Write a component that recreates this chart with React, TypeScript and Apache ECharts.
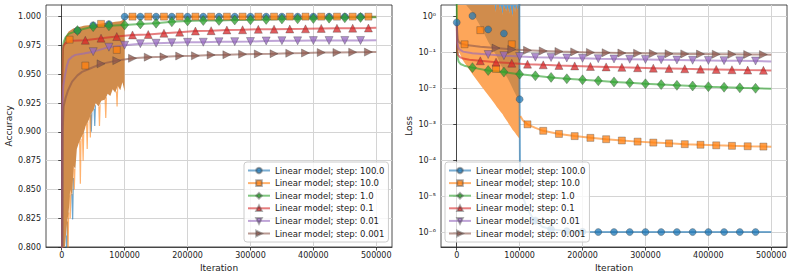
import React, { useEffect, useRef } from "react";
import * as echarts from "echarts";

// ---------- labels / categories ----------
const SERIES_NAMES = [
  "Linear model; step: 100.0",
  "Linear model; step: 10.0",
  "Linear model; step: 1.0",
  "Linear model; step: 0.1",
  "Linear model; step: 0.01",
  "Linear model; step: 0.001",
];
const ITER_TICKS = [0, 100000, 200000, 300000, 400000, 500000];
const ACC_TICKS = [0.8, 0.825, 0.85, 0.875, 0.9, 0.925, 0.95, 0.975, 1.0];
const LOSS_TICKS = [1e-6, 1e-5, 1e-4, 1e-3, 1e-2, 1e-1, 1];
const MARKER_OFFSETS = [0, 12500, 25000, 37500, 50000, 62500];
const MARKER_STEP = 25000;

// ---------- accuracy (left) ----------
// noisy spikes of the two large-step runs that reach below the dense noise band
const accBlueSpikes = [
  [7000, 0.81], [8000, 0.79], [9000, 0.822], [9001, null],
  [16000, 0.846], [17400, 0.824], [18500, 0.86], [18501, null],
  [46000, 0.915], [47000, 0.9], [48000, 0.917], [48001, null],
  [51500, 0.92], [52500, 0.905], [53500, 0.923],
];
const accOrangeSpikes = [
  [9000, 0.823], [10000, 0.79], [11000, 0.83], [11001, null],
  [12500, 0.845], [13500, 0.825], [14500, 0.85], [14501, null],
  [19000, 0.87], [20000, 0.85], [21000, 0.868], [21001, null],
  [28500, 0.892], [29600, 0.855], [30700, 0.894], [30701, null],
  [33000, 0.897], [34000, 0.875], [35000, 0.899], [35001, null],
  [39500, 0.907], [40500, 0.885], [41500, 0.909], [41501, null],
  [44500, 0.914], [45500, 0.895], [46500, 0.916], [46501, null],
  [59000, 0.922], [60000, 0.905], [61000, 0.924], [61001, null],
  [69000, 0.928], [70000, 0.912], [71000, 0.93], [71001, null],
  [87000, 0.935], [88000, 0.922], [89000, 0.94],
];
// band: [iteration, lower, upper]
const accBand = [
  [0, 0.7, 0.8], [1000, 0.7, 0.95], [1500, 0.7, 0.965], [2000, 0.7, 0.97], [3200, 0.7, 0.977],
  [5000, 0.79, 0.981], [8500, 0.821, 0.985], [11000, 0.83, 0.987], [13500, 0.85, 0.988],
  [16500, 0.844, 0.989], [19000, 0.87, 0.99], [21700, 0.868, 0.99], [24000, 0.885, 0.9905],
  [27000, 0.89, 0.991], [31000, 0.895, 0.9915], [35000, 0.899, 0.992], [38000, 0.905, 0.9922],
  [42800, 0.91, 0.9925], [46000, 0.915, 0.9928], [50700, 0.919, 0.993], [54000, 0.925, 0.9933],
  [58600, 0.922, 0.9937], [63000, 0.927, 0.994], [69300, 0.928, 0.9945], [73000, 0.933, 0.9948],
  [77200, 0.931, 0.995], [81000, 0.937, 0.9952], [85100, 0.934, 0.9955], [89000, 0.94, 0.9957],
  [93000, 0.936, 0.996], [96500, 0.943, 0.9968], [100000, 0.935, 1.0],
];
const accBlue = [
  [25000, 0.988], [25001, null], [50000, 0.9925], [50001, null], [75000, 0.9935], [75001, null],
  [100000, 1.0], [125000, 1.0], [150000, 1.0], [175000, 1.0], [200000, 1.0], [225000, 1.0],
  [250000, 1.0], [275000, 1.0], [300000, 1.0], [325000, 1.0], [350000, 1.0], [375000, 1.0],
  [400000, 1.0], [425000, 1.0], [450000, 1.0], [475000, 1.0], [500000, 1.0],
];
const accOrange = [
  [12500, 0.98], [12501, null], [37500, 0.9575], [37501, null], [62500, 0.9937], [62501, null],
  [87500, 0.9711], [87501, null],
  [100000, 1.0], [112500, 1.0], [137500, 1.0], [162500, 1.0], [187500, 1.0], [212500, 1.0],
  [237500, 1.0], [262500, 1.0], [287500, 1.0], [312500, 1.0], [337500, 1.0], [362500, 1.0],
  [387500, 1.0], [412500, 1.0], [437500, 1.0], [462500, 1.0], [487500, 1.0], [500000, 1.0],
];
const accGreen = [
  [0, 0.5], [800, 0.95], [1500, 0.972], [3200, 0.978], [6000, 0.982], [11000, 0.985],
  [25000, 0.9879], [50000, 0.9913], [75000, 0.992], [100000, 0.9928], [125000, 0.9937],
  [150000, 0.9943], [175000, 0.9955], [200000, 0.9963], [225000, 0.9966], [250000, 0.9967],
  [275000, 0.9971], [300000, 0.9972], [325000, 0.9976], [350000, 0.998], [375000, 0.9981],
  [400000, 0.9984], [425000, 0.9987], [450000, 0.999], [475000, 0.9993], [500000, 0.9994],
];
const accRed = [
  [0, 0.5], [800, 0.94], [1600, 0.9711], [3000, 0.975], [5900, 0.9769], [10000, 0.978],
  [16500, 0.979], [37500, 0.9795], [62500, 0.9813], [87500, 0.9827], [112500, 0.9841],
  [137500, 0.9845], [162500, 0.9856], [187500, 0.9865], [212500, 0.9875], [237500, 0.9878],
  [262500, 0.9884], [287500, 0.9886], [312500, 0.989], [337500, 0.9891], [362500, 0.9893],
  [387500, 0.9894], [412500, 0.9898], [437500, 0.9899], [462500, 0.99], [487500, 0.9901],
  [500000, 0.9904],
];
const accPurple = [
  [0, 0.5], [1000, 0.92], [2500, 0.94], [4800, 0.948], [8000, 0.957], [11000, 0.9624],
  [16000, 0.965], [21700, 0.9668], [35000, 0.968], [50000, 0.9696], [75000, 0.9735],
  [100000, 0.9752], [125000, 0.9765], [150000, 0.9769], [175000, 0.9774], [200000, 0.9777],
  [225000, 0.9778], [250000, 0.9782], [275000, 0.9783], [300000, 0.9784], [325000, 0.9789],
  [350000, 0.9791], [375000, 0.979], [400000, 0.9792], [425000, 0.9792], [450000, 0.9793],
  [475000, 0.9793], [500000, 0.9796],
];
const accBrown = [
  [0, 0.5], [1500, 0.9], [3000, 0.922], [5900, 0.929], [10000, 0.936], [16500, 0.9436],
  [25000, 0.949], [32300, 0.952], [45000, 0.955], [62500, 0.959], [87500, 0.9618],
  [112500, 0.9638], [137500, 0.9648], [162500, 0.9651], [187500, 0.9658], [212500, 0.966],
  [237500, 0.9667], [262500, 0.9669], [287500, 0.9674], [312500, 0.9676], [337500, 0.9678],
  [362500, 0.9682], [387500, 0.9684], [412500, 0.9688], [437500, 0.9689], [462500, 0.9691],
  [487500, 0.9692], [500000, 0.9693],
];

// ---------- loss (right) ----------
// band: [iteration, lower, upper]
const lossOrangeBand = [
  [0, 0.69, 3], [1000, 0.2, 3], [2000, 0.12, 3], [10000, 0.06, 3], [25000, 0.025, 3],
  [40000, 0.011, 3], [55000, 0.005, 3], [60000, 0.0038, 3], [62000, 0.0034, 1.3],
  [63500, 0.0031, 3], [67000, 0.0026, 3], [68500, 0.0024, 1.5], [70000, 0.0022, 3],
  [73000, 0.0019, 1.1], [74500, 0.0017, 3], [79000, 0.0013, 1.4], [80500, 0.0012, 3],
  [84000, 0.00095, 1.2], [85000, 0.0009, 3], [89000, 0.0007, 1.0], [90500, 0.00065, 3],
  [93000, 0.00057, 1.3], [94500, 0.00052, 3], [97000, 0.00046, 1.5], [98500, 0.00042, 3],
  [100000, 0.0004, 3],
];
const lossBlueBand = [
  [15000, 3, 3], [25000, 1.3, 3], [32000, 0.8, 3], [40000, 0.45, 3], [50000, 0.2, 3],
  [60000, 0.1, 3], [70000, 0.045, 3], [80000, 0.02, 3], [90000, 0.009, 3], [100000, 0.004, 3],
];
// where both noisy runs overlap
const lossBothBand = [
  [15000, 3, 3], [25000, 1.3, 3], [32000, 0.8, 3], [40000, 0.45, 3], [50000, 0.2, 3],
  [60000, 0.1, 3], [62000, 0.09, 1.3], [63500, 0.08, 3], [67000, 0.06, 3], [68500, 0.05, 1.5],
  [70000, 0.045, 3], [73000, 0.036, 1.1], [74500, 0.032, 3], [79000, 0.022, 1.4],
  [80500, 0.02, 3], [84000, 0.015, 1.2], [85000, 0.014, 3], [89000, 0.01, 1.0],
  [90500, 0.0088, 3], [93000, 0.0072, 1.3], [94500, 0.0064, 3], [97000, 0.0052, 1.5],
  [98500, 0.0046, 3], [100000, 0.004, 3],
];
const lossBlue = [
  [0, 0.69], [1, null], [25000, 1.05], [25001, null], [50000, 0.44], [50001, null],
  [75000, 0.34], [75001, null],
  [99500, 3], [100000, 0.005], [100500, 1e-4], [102000, 1.5e-5], [110000, 5.3e-6],
  [120000, 2.6e-6], [125000, 2.1e-6], [136000, 1.4e-6], [150000, 1.2e-6], [175000, 1.06e-6],
  [200000, 1.02e-6], [225000, 1e-6], [250000, 1e-6], [275000, 1e-6], [300000, 1e-6],
  [325000, 1e-6], [350000, 1e-6], [375000, 1e-6], [400000, 1e-6], [425000, 1e-6],
  [450000, 1e-6], [475000, 1e-6], [500000, 1e-6],
];
const lossOrange = [
  [12500, 0.17], [12501, null], [37500, 0.42], [37501, null], [62500, 0.035], [62501, null],
  [87500, 0.17], [87501, null],
  [101000, 0.0017], [105000, 0.0013], [112500, 1.0e-3], [125000, 8e-4], [137500, 6.6e-4],
  [162500, 5.4e-4], [187500, 4.7e-4], [212500, 4.2e-4], [237500, 3.85e-4], [262500, 3.55e-4],
  [287500, 3.3e-4], [312500, 3.1e-4], [337500, 2.95e-4], [362500, 2.8e-4], [387500, 2.7e-4],
  [412500, 2.6e-4], [437500, 2.52e-4], [462500, 2.45e-4], [487500, 2.4e-4], [500000, 2.37e-4],
];
const lossGreen = [
  [0, 3], [600, 0.2], [1000, 0.1], [1600, 0.07], [3000, 0.056], [6000, 0.048], [12000, 0.043],
  [25000, 0.038], [50000, 0.0316], [75000, 0.0285], [100000, 0.025], [125000, 0.0225],
  [150000, 0.0203], [175000, 0.0186], [200000, 0.0174], [225000, 0.0163], [250000, 0.0152],
  [275000, 0.0143], [300000, 0.0135], [325000, 0.0128], [350000, 0.0122], [375000, 0.0117],
  [400000, 0.0112], [425000, 0.0108], [450000, 0.0104], [475000, 0.0101], [500000, 0.0098],
];
const lossRed = [
  [0, 0.69], [500, 0.2], [1000, 0.11], [2000, 0.085], [5000, 0.075], [10000, 0.068],
  [20000, 0.063], [37500, 0.059], [62500, 0.054], [87500, 0.0505], [112500, 0.0475],
  [137500, 0.0455], [162500, 0.0438], [187500, 0.0424], [212500, 0.041], [237500, 0.0398],
  [262500, 0.0387], [287500, 0.0377], [312500, 0.0368], [337500, 0.036], [362500, 0.0352],
  [387500, 0.0345], [412500, 0.0338], [437500, 0.0331], [462500, 0.0325], [487500, 0.032],
  [500000, 0.0318],
];
const lossPurple = [
  [0, 0.69], [600, 0.3], [1200, 0.18], [2500, 0.14], [5000, 0.12], [10000, 0.106],
  [25000, 0.096], [50000, 0.088], [75000, 0.082], [100000, 0.0775], [125000, 0.0745],
  [150000, 0.0725], [175000, 0.0705], [200000, 0.069], [225000, 0.0675], [250000, 0.0662],
  [275000, 0.065], [300000, 0.064], [325000, 0.063], [350000, 0.062], [375000, 0.061],
  [400000, 0.0602], [425000, 0.0595], [450000, 0.0587], [475000, 0.058], [500000, 0.0565],
];
const lossBrown = [
  [0, 0.69], [800, 0.35], [1500, 0.24], [3000, 0.2], [6000, 0.18], [15000, 0.163],
  [37500, 0.145], [62500, 0.133], [87500, 0.122], [112500, 0.115], [137500, 0.111],
  [162500, 0.107], [187500, 0.104], [212500, 0.101], [237500, 0.099], [262500, 0.097],
  [287500, 0.0955], [312500, 0.094], [337500, 0.0928], [362500, 0.0917], [387500, 0.0907],
  [412500, 0.0898], [437500, 0.089], [462500, 0.0883], [487500, 0.0876], [500000, 0.087],
];

// ---------- styles ----------
const COLORS = ["#1f77b4", "#ff7f0e", "#2ca02c", "#d62728", "#9467bd", "#8c564b"];
const SYMBOLS = [
  "circle",
  "rect",
  "diamond",
  "triangle",
  "path://M0,0L10,0L5,10Z",
  "path://M0,0L10,5L0,10Z",
];
const SYMBOL_SIZES: any[] = [7, 7, [8, 10], 8, 8, 8];
const FONT = "DejaVu Sans";
const TEXT = "#222";
const ACC_MIN = 0.8, ACC_MAX = 1.0101;
const LOSS_MIN = 3.83e-7, LOSS_MAX = 2.11;
// pre-blended fills: blue-noise area, orange-noise area, and where both overlap
const BLUE_FILL = "#5f9fcf";
const ORANGE_FILL = "#fda65a";
const BOTH_FILL = "#d08c4c";

const SUP: Record<string, string> = {
  "-": "\u207b", "0": "\u2070", "1": "\u00b9", "2": "\u00b2", "3": "\u00b3", "4": "\u2074",
  "5": "\u2075", "6": "\u2076", "7": "\u2077", "8": "\u2078", "9": "\u2079",
};
function powLabel(v: number) {
  const e = String(Math.round(Math.log10(v)));
  return "10" + e.split("").map((c) => SUP[c] || c).join("");
}

function isMarker(idx: number, x: number) {
  const off = MARKER_OFFSETS[idx];
  return x >= off && (x - off) % MARKER_STEP === 0 && x < 500000;
}

function mainSeries(idx: number, pts: any[], axis: number) {
  return {
    type: "line",
    name: SERIES_NAMES[idx],
    xAxisIndex: axis,
    yAxisIndex: axis,
    z: 10,
    clip: true,
    symbol: SYMBOLS[idx],
    symbolSize: SYMBOL_SIZES[idx],
    showSymbol: true,
    showAllSymbol: true,
    connectNulls: false,
    data: pts.map(([x, y]) =>
      y === null
        ? { value: [x, "-"] }
        : isMarker(idx, x)
        ? { value: [x, y] }
        : { value: [x, y], symbol: "none" }
    ),
    lineStyle: { color: COLORS[idx], width: 2, opacity: 0.6 },
    itemStyle: {
      color: COLORS[idx],
      opacity: 0.75,
      borderColor: "rgba(60,60,60,0.55)",
      borderWidth: 0.8,
    },
    emphasis: { disabled: true },
  };
}

function spikeSeries(idx: number, pts: any[], axis: number, opacity: number) {
  return {
    type: "line",
    xAxisIndex: axis,
    yAxisIndex: axis,
    z: 1,
    clip: true,
    symbol: "none",
    connectNulls: false,
    data: pts.map(([x, y]) => [x, y === null ? "-" : y]),
    lineStyle: { color: COLORS[idx], width: 1.2, opacity },
    emphasis: { disabled: true },
    silent: true,
  };
}

function xAxis(gridIndex: number) {
  return {
    type: "value",
    gridIndex,
    min: -25000,
    max: 525000,
    minInterval: 100000,
    maxInterval: 100000,
    name: "Iteration",
    nameLocation: "middle",
    nameGap: 16,
    nameTextStyle: { fontFamily: FONT, fontSize: 9, color: TEXT },
    axisLine: { show: true, lineStyle: { color: TEXT, width: 0.8 } },
    axisTick: { show: true, length: 3.5, lineStyle: { color: TEXT, width: 0.8 }, customValues: ITER_TICKS },
    axisLabel: {
      fontFamily: FONT, fontSize: 8, color: TEXT, margin: 4,
      customValues: ITER_TICKS,
      formatter: (v: number) => String(v),
    },
    splitLine: { show: true, lineStyle: { color: "#d4d4d4", width: 1 } },
  };
}

const legendBase = {
  orient: "vertical",
  top: 162,
  itemWidth: 22,
  itemHeight: 7,
  itemGap: 3.6,
  padding: [4, 4, 4, 3],
  backgroundColor: "rgba(255,255,255,0.8)",
  borderColor: "#cccccc",
  borderWidth: 1,
  borderRadius: 3,
  selectedMode: false,
  z: 20,
  textStyle: { fontFamily: FONT, fontSize: 8.5, color: TEXT, lineHeight: 9 },
  data: SERIES_NAMES,
};

export default function App() {
  const ref = useRef<HTMLDivElement>(null);
  useEffect(() => {
    if (!ref.current) return;
    const chart = echarts.init(ref.current, undefined, { renderer: "svg" });
    const accMain = [accBlue, accOrange, accGreen, accRed, accPurple, accBrown];
    const lossMain = [lossBlue, lossOrange, lossGreen, lossRed, lossPurple, lossBrown];
    const series: any[] = [
      spikeSeries(0, accBlueSpikes, 0, 0.65),
      spikeSeries(1, accOrangeSpikes, 0, 0.6),
      ...accMain.map((d, i) => mainSeries(i, d, 0)),
      ...lossMain.map((d, i) => mainSeries(i, d, 1)),
    ];
    chart.setOption({
      animation: false,
      textStyle: { fontFamily: FONT },
      grid: [
        { left: 46, right: 401, top: 5, bottom: 32, show: true, borderColor: TEXT, borderWidth: 0.8, backgroundColor: "transparent" },
        { left: 441, right: 6, top: 5, bottom: 32, show: true, borderColor: TEXT, borderWidth: 0.8, backgroundColor: "transparent" },
      ],
      xAxis: [xAxis(0), xAxis(1)],
      yAxis: [
        {
          type: "value",
          gridIndex: 0,
          min: ACC_MIN,
          max: ACC_MAX,
          interval: 0.025,
          name: "Accuracy",
          nameLocation: "middle",
          nameGap: 33,
          nameTextStyle: { fontFamily: FONT, fontSize: 9, color: TEXT },
          axisLine: { show: true, lineStyle: { color: TEXT, width: 0.8 } },
          axisTick: { show: true, length: 3.5, lineStyle: { color: TEXT, width: 0.8 }, customValues: ACC_TICKS },
          axisLabel: {
            fontFamily: FONT, fontSize: 8, color: TEXT, margin: 5,
            customValues: ACC_TICKS,
            formatter: (v: number) => v.toFixed(3),
          },
          splitLine: { show: true, lineStyle: { color: "#d4d4d4", width: 1 } },
        },
        {
          type: "log",
          logBase: 10,
          gridIndex: 1,
          min: LOSS_MIN,
          max: LOSS_MAX,
          name: "Loss",
          nameLocation: "middle",
          nameGap: 28,
          nameTextStyle: { fontFamily: FONT, fontSize: 9, color: TEXT },
          axisLine: { show: true, lineStyle: { color: TEXT, width: 0.8 } },
          axisTick: { show: true, length: 3.5, lineStyle: { color: TEXT, width: 0.8 }, customValues: LOSS_TICKS },
          axisLabel: {
            fontFamily: FONT, fontSize: 8, color: TEXT, margin: 5,
            customValues: LOSS_TICKS,
            formatter: (v: number) => powLabel(v),
          },
          splitLine: { show: true, lineStyle: { color: "#d4d4d4", width: 1 } },
        },
      ],
      legend: [
        { ...legendBase, left: 244 },
        { ...legendBase, left: 445 },
      ],
      series,
    });

    // dense-noise bands: polygons placed through the chart's own axis scales
    const bands = [
      { band: accBand, axis: 0, fill: BOTH_FILL, lo: ACC_MIN, hi: ACC_MAX },
      { band: lossBlueBand, axis: 1, fill: BLUE_FILL, lo: LOSS_MIN, hi: LOSS_MAX },
      { band: lossOrangeBand, axis: 1, fill: ORANGE_FILL, lo: LOSS_MIN, hi: LOSS_MAX },
      { band: lossBothBand, axis: 1, fill: BOTH_FILL, lo: LOSS_MIN, hi: LOSS_MAX },
    ];
    const clampV = (v: number, lo: number, hi: number) => Math.min(Math.max(v, lo), hi);
    const children = bands.map((b, i) => {
      const finder = { xAxisIndex: b.axis, yAxisIndex: b.axis };
      const up = b.band.map(([x, , u]) => chart.convertToPixel(finder, [x, clampV(u, b.lo, b.hi)]) as number[]);
      const down = b.band
        .map(([x, l]) => chart.convertToPixel(finder, [x, clampV(l, b.lo, b.hi)]) as number[])
        .reverse();
      return {
        type: "polygon",
        id: "band" + i,
        z: 5 + i,
        silent: true,
        shape: { points: up.concat(down) },
        style: { fill: b.fill, opacity: 1 },
      };
    });
    chart.setOption({ graphic: [{ type: "group", id: "bands", z: 5, children }] });
    return () => chart.dispose();
  }, []);
  return (
    <div
      ref={ref}
      style={{ position: "fixed", left: 0, top: 0, width: 793, height: 279, background: "#fff" }}
    />
  );
}
